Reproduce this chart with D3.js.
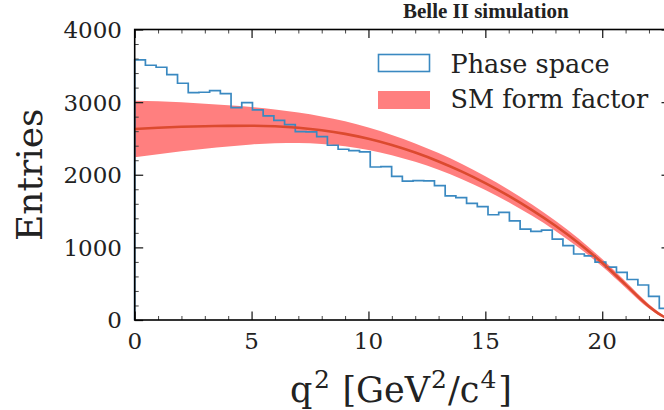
<!DOCTYPE html>
<html>
<head>
<meta charset="utf-8">
<script src="https://cdn.jsdelivr.net/npm/d3@7"></script>
<style>
  html, body { margin: 0; padding: 0; background: #fff; }
  svg { display: block; }
</style>
</head>
<body>
<svg id="chart" width="664" height="410"></svg>
<script>
// ---- data ----
const q2Max = 22.9;
const nBins = 50;
const phaseSpaceCounts = [
  3581, 3508, 3480, 3379, 3260, 3131, 3136, 3159, 3117, 2924,
  2993, 2893, 2810, 2750, 2690, 2594, 2590, 2525, 2406, 2351,
  2332, 2314, 2107, 2112, 1978, 1912, 1919, 1917, 1850, 1710,
  1685, 1607, 1561, 1449, 1483, 1366, 1251, 1219, 1237, 1114,
  1024, 909, 882, 797, 728, 657, 558, 482, 326, 161
];
const smQ2 = [0, 1, 2, 3, 4, 5, 6, 7, 8, 9, 10, 11, 12, 13, 14, 15, 16, 17, 18, 19, 20, 21, 22, 22.5, 22.9];
const smCentral = [2630, 2648, 2660, 2668, 2673, 2675, 2667, 2647, 2613, 2563, 2495, 2409, 2305, 2183, 2043, 1885, 1709, 1513, 1297, 1057, 787, 487, 187, 70, 0];
const smUpper = [3020, 3013, 2998, 2978, 2956, 2932, 2899, 2857, 2803, 2735, 2650, 2549, 2432, 2298, 2147, 1979, 1795, 1591, 1367, 1118, 839, 529, 217, 88, 0];
const smLower = [2240, 2283, 2322, 2358, 2390, 2418, 2435, 2437, 2423, 2391, 2340, 2269, 2178, 2068, 1939, 1791, 1623, 1435, 1227, 996, 735, 445, 157, 52, 0];
const xTicks = [0, 5, 10, 15, 20];
const yTicks = [0, 1000, 2000, 3000, 4000];
const legendLabels = ["Phase space", "SM form factor"];
const titleText = "Belle II simulation";

// ---- layout ----
const svg = d3.select("#chart");
const L = 134.7, R = 670.0, T = 29.5, B = 320.0;
const x = d3.scaleLinear().domain([0, q2Max]).range([L, R]);
const y = d3.scaleLinear().domain([0, 4000]).range([B, T]);

const blue = "#3a89c1";
const lineRed = "#dc4a2f";
const bandRed = "#ff7f7f";
const serif = "'DejaVu Serif', serif";

// ---- band ----
const smData = smQ2.map((q, i) => ({q, c: smCentral[i], u: smUpper[i], l: smLower[i]}));
svg.append("path")
  .datum(smData)
  .attr("fill", bandRed)
  .attr("d", d3.area().x(d => x(d.q)).y0(d => y(d.l)).y1(d => y(d.u)).curve(d3.curveMonotoneX));

// ---- histogram (step) ----
const binW = q2Max / nBins;
const stepPts = [[0, 0]];
phaseSpaceCounts.forEach((v, i) => {
  stepPts.push([i * binW, v]);
  stepPts.push([(i + 1) * binW, v]);
});
stepPts.push([q2Max, 0]);
svg.append("path")
  .datum(stepPts)
  .attr("fill", "none")
  .attr("stroke", blue)
  .attr("stroke-width", 1.7)
  .attr("d", d3.line().x(d => x(d[0])).y(d => y(d[1])));

// ---- central line ----
svg.append("path")
  .datum(smData)
  .attr("fill", "none")
  .attr("stroke", lineRed)
  .attr("stroke-width", 2.6)
  .attr("d", d3.line().x(d => x(d.q)).y(d => y(d.c)).curve(d3.curveMonotoneX));

// ---- axes ----
function styleAxis(g, minor) {
  g.select(".domain").remove();
  g.selectAll(".tick line").attr("stroke", minor ? "#444" : "#222").attr("stroke-width", minor ? 1 : 1.3);
  g.selectAll(".tick text").remove();
}
const xMinor = d3.range(0, 23, 1).filter(v => v % 5 !== 0);
const yMinor = d3.range(0, 4001, 200).filter(v => v % 1000 !== 0);

// bottom
svg.append("g").attr("transform", `translate(0,${B})`)
  .call(d3.axisTop(x).tickValues(xTicks).tickSize(8.5)).call(g => styleAxis(g, false));
svg.append("g").attr("transform", `translate(0,${B})`)
  .call(d3.axisTop(x).tickValues(xMinor).tickSize(4)).call(g => styleAxis(g, true));
// top
svg.append("g").attr("transform", `translate(0,${T})`)
  .call(d3.axisBottom(x).tickValues(xTicks).tickSize(8.5)).call(g => styleAxis(g, false));
svg.append("g").attr("transform", `translate(0,${T})`)
  .call(d3.axisBottom(x).tickValues(xMinor).tickSize(4)).call(g => styleAxis(g, true));
// left
svg.append("g").attr("transform", `translate(${L},0)`)
  .call(d3.axisRight(y).tickValues(yTicks).tickSize(8.5)).call(g => styleAxis(g, false));
svg.append("g").attr("transform", `translate(${L},0)`)
  .call(d3.axisRight(y).tickValues(yMinor).tickSize(4)).call(g => styleAxis(g, true));
// right
svg.append("g").attr("transform", `translate(${R},0)`)
  .call(d3.axisLeft(y).tickValues(yTicks).tickSize(8.5)).call(g => styleAxis(g, false));
svg.append("g").attr("transform", `translate(${R},0)`)
  .call(d3.axisLeft(y).tickValues(yMinor).tickSize(4)).call(g => styleAxis(g, true));

// spines
svg.append("rect").attr("x", L).attr("y", T).attr("width", R - L).attr("height", B - T)
  .attr("fill", "none").attr("stroke", "#000").attr("stroke-width", 1.6);

// tick labels
svg.append("g").selectAll("text").data(xTicks).join("text")
  .attr("x", d => x(d)).attr("y", 348.5)
  .attr("text-anchor", "middle")
  .attr("font-family", serif).attr("font-size", 23).attr("fill", "#222")
  .text(d => d);
svg.append("g").selectAll("text").data(yTicks).join("text")
  .attr("x", 122).attr("y", d => y(d) + 8.4)
  .attr("text-anchor", "end")
  .attr("font-family", serif).attr("font-size", 23).attr("fill", "#222")
  .text(d => d);

// axis labels
const xl = svg.append("text")
  .attr("x", 401).attr("y", 402)
  .attr("text-anchor", "middle")
  .attr("font-family", serif).attr("font-size", 35).attr("fill", "#222");
xl.append("tspan").text("q");
xl.append("tspan").attr("dx", 1.5).attr("dy", -14).attr("font-size", 25).text("2");
xl.append("tspan").attr("dx", 1.5).attr("dy", 14).text(" [GeV");
xl.append("tspan").attr("dx", 1).attr("dy", -14).attr("font-size", 25).text("2");
xl.append("tspan").attr("dx", 1).attr("dy", 14).text("/c");
xl.append("tspan").attr("dx", 1).attr("dy", -14).attr("font-size", 25).text("4");
xl.append("tspan").attr("dx", 2).attr("dy", 14).text("]");

svg.append("text")
  .attr("transform", `translate(41.5,${(T + B) / 2}) rotate(-90)`)
  .attr("text-anchor", "middle")
  .attr("font-family", serif).attr("font-size", 36).attr("fill", "#222")
  .text("Entries");

// title
svg.append("text")
  .attr("x", 403).attr("y", 18)
  .attr("font-family", "'Liberation Serif', serif").attr("font-weight", "bold")
  .attr("font-size", 21).attr("fill", "#222")
  .text(titleText);

// legend
const leg = svg.append("g");
leg.append("rect").attr("x", 378.5).attr("y", 54.5).attr("width", 51).attr("height", 17)
  .attr("fill", "#fff").attr("stroke", blue).attr("stroke-width", 1.6);
leg.append("rect").attr("x", 378).attr("y", 91).attr("width", 52).attr("height", 18)
  .attr("fill", bandRed);
leg.selectAll("text.lab").data(legendLabels).join("text")
  .attr("class", "lab")
  .attr("x", 450.5).attr("y", (d, i) => i === 0 ? 72.7 : 108.3)
  .attr("font-family", serif).attr("font-size", 25.5).attr("fill", "#222")
  .text(d => d);
</script>
</body>
</html>
